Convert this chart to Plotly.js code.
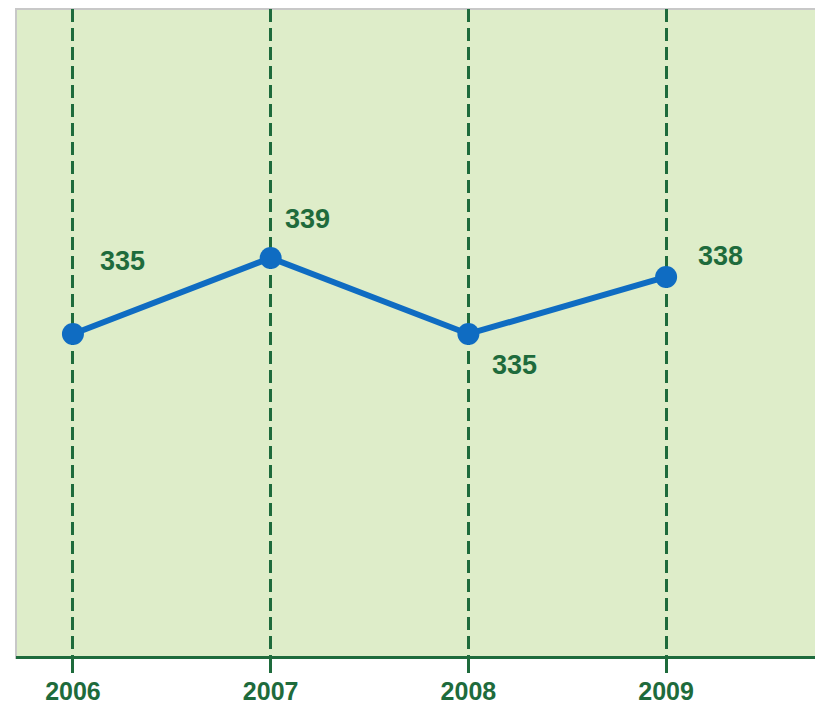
<!DOCTYPE html>
<html>
<head>
<meta charset="utf-8">
<script src="https://cdn.plot.ly/plotly-3.0.1.min.js"></script>
<style>html,body{margin:0;padding:0;background:#fff;}#chart{width:815px;height:707px;}</style>
</head>
<body>
<div id="chart"></div>
<script>
const years = [2006, 2007, 2008, 2009];
const values = [335, 339, 335, 338];
const tickLabels = ["2006", "2007", "2008", "2009"];
const labelShiftX = [50, 37, 46, 54];
const labelShiftY = [73, 39, -31, 21];

const green = '#1e6b3c';
const font = 'Liberation Sans, Arial, sans-serif';

const trace = {
  x: years, y: values, type: 'scatter', mode: 'lines+markers',
  line: {color: '#0f6cc2', width: 6},
  marker: {color: '#0f6cc2', size: 22},
  hoverinfo: 'skip'
};

const annotations = years.map((yr, i) => ({
  x: yr, y: values[i], xref: 'x', yref: 'y', text: String(values[i]),
  showarrow: false, xshift: labelShiftX[i], yshift: labelShiftY[i],
  font: {family: font, size: 27, color: green, weight: 'bold'}
}));

const layout = {
  width: 815, height: 707,
  margin: {l: 16, r: 0, t: 9, b: 51},
  paper_bgcolor: '#ffffff', plot_bgcolor: '#deedc9',
  showlegend: false,
  xaxis: {
    range: [2005.712, 2009.753], tickvals: years, ticktext: tickLabels,
    showgrid: true, gridcolor: green, gridwidth: 3, griddash: '13px,6px',
    zeroline: false, showline: true, linecolor: green, linewidth: 3,
    ticks: 'outside', ticklen: 14, tickwidth: 3, tickcolor: green,
    ticklabelstandoff: -3,
    tickfont: {family: font, size: 25, color: green, weight: 'bold'},
    fixedrange: true
  },
  yaxis: {
    range: [318.05, 352.1], showgrid: false, zeroline: false,
    showticklabels: false, ticks: '', showline: false, fixedrange: true
  },
  shapes: [{
    type: 'rect', xref: 'paper', yref: 'paper', x0: 0, x1: 1.01, y0: -0.003, y1: 1,
    line: {color: '#c8c8c8', width: 2}, layer: 'below'
  }],
  annotations: annotations
};

Plotly.newPlot('chart', [trace], layout, {displayModeBar: false, staticPlot: true});
</script>
</body>
</html>
